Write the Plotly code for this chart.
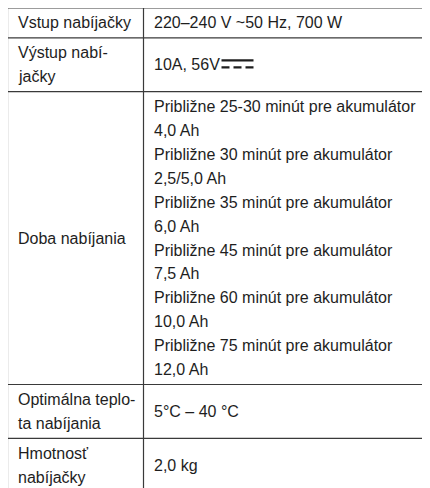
import plotly.graph_objects as go

# ---- table content (data) ----
labels = [
    ["Vstup nabíjačky"],
    ["Výstup nabí-", "jačky"],
    ["Doba nabíjania"],
    ["Optimálna teplo-", "ta nabíjania"],
    ["Hmotnosť", "nabíjačky"],
]
values = [
    ["220–240 V ~50 Hz, 700 W"],
    ["10A, 56V"],
    [
        "Približne 25-30 minút pre akumulátor", "4,0 Ah",
        "Približne 30 minút pre akumulátor", "2,5/5,0 Ah",
        "Približne 35 minút pre akumulátor", "6,0 Ah",
        "Približne 45 minút pre akumulátor", "7,5 Ah",
        "Približne 60 minút pre akumulátor", "10,0 Ah",
        "Približne 75 minút pre akumulátor", "12,0 Ah",
    ],
    ["5°C – 40 °C"],
    ["2,0 kg"],
]
dc_symbol_rows = [1]  # rows whose value is followed by the DC (⎓) symbol

# ---- layout constants ----
W, H = 430, 488
BODY_MARGIN = 8            # default page margin around the plot div
LEFT, TOP = 7.5, 8         # table origin in screen pixels
COL_W = [136, 320]
LINE_H = 23.9
PAD = 6
TEXT_PAD = 8
LINE_COLOR = "#3a3a3a"
FONT = dict(family="Liberation Sans, Arial, sans-serif", size=16, color="#1e1e1e")
VALUE_TEXT_W = 66          # approx. rendered width of "10A, 56V"

fig = go.Figure()
fig.add_trace(go.Scatter(x=[BODY_MARGIN, BODY_MARGIN + W], y=[BODY_MARGIN, BODY_MARGIN + H],
                         mode="markers", marker=dict(opacity=0),
                         hoverinfo="skip", showlegend=False))

col_x = [LEFT, LEFT + COL_W[0], LEFT + COL_W[0] + COL_W[1]]
row_heights = [max(len(a), len(b)) * LINE_H + PAD for a, b in zip(labels, values)]
row_y = [TOP]
for h in row_heights:
    row_y.append(row_y[-1] + h)

shapes = []
for y in row_y:
    shapes.append(dict(type="line", xref="x", yref="y", x0=col_x[0], x1=col_x[2],
                       y0=y, y1=y, line=dict(color=LINE_COLOR, width=1.2)))
for x in col_x:
    shapes.append(dict(type="line", xref="x", yref="y", x0=x, x1=x,
                       y0=row_y[0], y1=row_y[-1], line=dict(color=LINE_COLOR, width=1.2)))

annotations = []
for i, (lab, val) in enumerate(zip(labels, values)):
    top, h = row_y[i], row_heights[i]
    for c, lines in enumerate((lab, val)):
        start = top + (h - len(lines) * LINE_H) / 2
        for j, txt in enumerate(lines):
            annotations.append(dict(
                x=col_x[c] + TEXT_PAD, y=start + (j + 0.5) * LINE_H,
                xref="x", yref="y", text=txt, showarrow=False,
                xanchor="left", yanchor="middle", font=FONT))

# DC symbol: solid bar over dashed bar, after the value text
for i in dc_symbol_rows:
    ymid = row_y[i] + row_heights[i] / 2
    x0 = col_x[1] + TEXT_PAD + VALUE_TEXT_W + 4
    shapes.append(dict(type="line", xref="x", yref="y", x0=x0, x1=x0 + 32,
                       y0=ymid - 4.5, y1=ymid - 4.5, line=dict(color="#1e1e1e", width=2.2)))
    shapes.append(dict(type="line", xref="x", yref="y", x0=x0, x1=x0 + 32,
                       y0=ymid + 2.5, y1=ymid + 2.5,
                       line=dict(color="#1e1e1e", width=2.2, dash="8px,4px")))

fig.update_layout(
    width=W, height=H,
    margin=dict(l=0, r=0, t=0, b=0),
    paper_bgcolor="white", plot_bgcolor="white",
    xaxis=dict(range=[BODY_MARGIN, BODY_MARGIN + W], visible=False, fixedrange=True),
    yaxis=dict(range=[BODY_MARGIN + H, BODY_MARGIN], visible=False, fixedrange=True),
    shapes=shapes, annotations=annotations,
)
fig.write_html("out.html")
